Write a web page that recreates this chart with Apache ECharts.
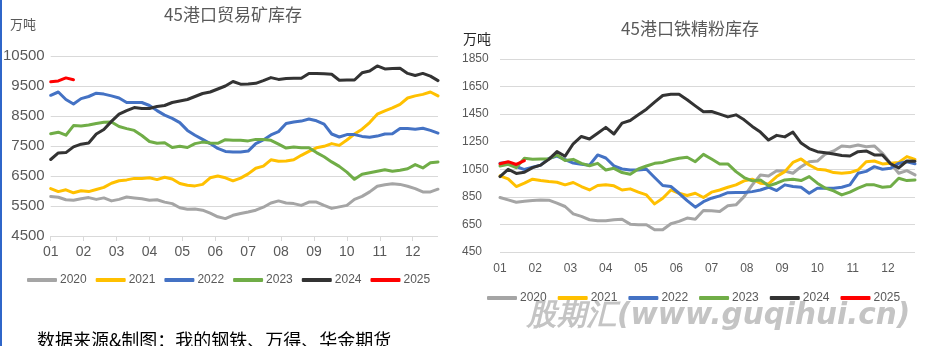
<!DOCTYPE html>
<html>
<head>
<meta charset="utf-8">
<title>45港口库存</title>
<script src="https://cdn.jsdelivr.net/npm/echarts@6/dist/echarts.min.js"></script>
<style>
  html, body { margin: 0; padding: 0; background: #fff; }
  #chart { width: 927px; height: 346px; }
</style>
</head>
<body>
<div id="chart"></div>
<script>
// Weekly categories (52 weeks per year) and month tick labels
const WEEKS = ['W01','W02','W03','W04','W05','W06','W07','W08','W09','W10','W11','W12','W13',
  'W14','W15','W16','W17','W18','W19','W20','W21','W22','W23','W24','W25','W26',
  'W27','W28','W29','W30','W31','W32','W33','W34','W35','W36','W37','W38','W39',
  'W40','W41','W42','W43','W44','W45','W46','W47','W48','W49','W50','W51','W52'];
const MONTH_LABELS = ['01','02','03','04','05','06','07','08','09','10','11','12'];
const YEARS = ['2020','2021','2022','2023','2024','2025'];
const YEAR_COLORS = ['#A5A5A5','#FFC000','#4472C4','#70AD47','#333333','#FF0000'];

// 45港口贸易矿库存 (万吨)
const TRADE_Y_TICKS = [4500, 5500, 6500, 7500, 8500, 9500, 10500];
const TRADE_2020 = [5820,5790,5710,5690,5740,5780,5720,5770,5670,5720,5800,5770,5740,5690,5710,5630,5580,5440,5390,5400,5360,5260,5140,5080,5190,5250,5300,5360,5460,5600,5670,5600,5580,5520,5630,5630,5520,5420,5470,5520,5720,5820,5970,6160,6210,6240,6220,6160,6080,5970,5970,6060];
const TRADE_2021 = [6080,5980,6040,5940,6010,5980,6050,6120,6260,6340,6370,6420,6420,6440,6380,6460,6400,6250,6190,6170,6220,6440,6500,6440,6340,6430,6570,6760,6830,7040,6990,7000,7040,7190,7320,7440,7490,7580,7520,7700,7900,8060,8280,8560,8670,8770,8890,9100,9170,9220,9300,9170];
const TRADE_2022 = [9190,9300,9050,8900,9080,9150,9260,9230,9170,9100,8950,8950,8950,8850,8680,8530,8420,8280,8020,7860,7720,7580,7420,7320,7300,7300,7330,7580,7700,7870,7980,8250,8300,8330,8400,8340,8230,7900,7800,7880,7880,7820,7790,7830,7900,7910,8080,8080,8060,8090,8020,7930];
const TRADE_2023 = [7910,7960,7860,8180,8170,8200,8250,8290,8300,8150,8080,8020,7850,7650,7590,7610,7450,7490,7450,7580,7630,7600,7590,7710,7690,7690,7670,7720,7720,7690,7560,7430,7470,7440,7440,7280,7140,6970,6820,6630,6390,6560,6610,6660,6710,6660,6690,6740,6880,6770,6940,6970];
const TRADE_2024 = [7050,7270,7280,7470,7560,7600,7900,8050,8320,8560,8680,8780,8750,8750,8820,8850,8950,9000,9050,9150,9250,9300,9400,9500,9650,9560,9570,9590,9680,9780,9720,9750,9760,9760,9920,9920,9910,9890,9690,9700,9700,9940,10000,10170,10070,10080,10090,9920,9850,9920,9830,9680];
const TRADE_2025 = [9640,9670,9770,9710];

// 45港口铁精粉库存 (万吨)
const FINES_Y_TICKS = [450, 650, 850, 1050, 1250, 1450, 1650, 1850];
const FINES_2020 = [845,828,811,818,823,828,826,804,780,727,708,684,676,676,684,688,652,648,648,611,611,655,672,696,688,751,749,744,785,792,852,937,1009,1002,1040,1038,1021,1069,1105,1110,1161,1183,1219,1214,1226,1214,1219,1166,1093,1021,1040,1009];
const FINES_2021 = [1002,980,925,949,978,968,961,956,937,954,925,900,932,937,930,900,908,884,864,799,840,900,876,860,876,845,884,900,920,937,966,978,949,944,997,1033,1100,1125,1081,1050,1045,1026,1021,1026,1045,1105,1110,1089,1093,1100,1142,1122];
const FINES_2022 = [1093,1100,1070,1048,1065,1080,1128,1146,1120,1095,1086,1080,1154,1132,1075,1052,1045,1045,1050,990,932,925,876,823,775,815,840,857,880,882,882,888,900,920,896,937,925,920,876,913,913,913,920,937,1021,1035,1069,1050,1057,1093,1105,1090];
const FINES_2023 = [1074,1086,1062,1130,1122,1125,1125,1154,1113,1122,1093,1076,1093,1045,1057,1026,1014,1052,1074,1093,1100,1117,1130,1137,1105,1158,1125,1089,1089,1033,990,966,973,930,949,973,978,968,997,949,913,893,864,884,913,937,937,920,925,985,968,973];
const FINES_2024 = [997,1050,1020,1028,1062,1080,1122,1178,1145,1235,1288,1270,1312,1354,1306,1385,1404,1445,1486,1537,1585,1595,1595,1554,1510,1467,1469,1450,1430,1445,1409,1361,1320,1262,1296,1285,1320,1240,1200,1178,1170,1161,1150,1146,1178,1183,1154,1154,1090,1060,1110,1108];
const FINES_2025 = [1090,1105,1085,1112];

const TRADE_SERIES = [TRADE_2020, TRADE_2021, TRADE_2022, TRADE_2023, TRADE_2024, TRADE_2025];
const FINES_SERIES = [FINES_2020, FINES_2021, FINES_2022, FINES_2023, FINES_2024, FINES_2025];

const LABEL_COLOR = '#595959';
const GRID_COLOR = '#D9D9D9';
const NUM_FONT = '"Liberation Sans", Arial, sans-serif';
const CJK_FONT = '"Noto Sans CJK SC", sans-serif';

// Month positions on the week scale: month k sits at k * (52/12) weeks.
const monthSpan = (WEEKS.length - 1) / WEEKS.length * MONTH_LABELS.length;

function weekAxis(gridIndex) {
  return {
    type: 'category', gridIndex, data: WEEKS, boundaryGap: false,
    axisLine: { show: false }, axisTick: { show: false }, axisLabel: { show: false },
    splitLine: { show: false }
  };
}
function monthAxis(gridIndex, fontSize, margin, showTicks) {
  return {
    type: 'value', gridIndex, position: 'bottom', min: 0, max: monthSpan, interval: 1,
    axisLine: { show: false },
    axisTick: { show: showTicks, length: 5, lineStyle: { color: GRID_COLOR, width: 1 } },
    splitLine: { show: false },
    axisLabel: {
      color: LABEL_COLOR, fontSize, fontFamily: NUM_FONT, margin,
      showMaxLabel: false,
      formatter: v => (Number.isInteger(v) && MONTH_LABELS[v]) ? MONTH_LABELS[v] : ''
    }
  };
}

const series = [];
YEARS.forEach((name, k) => {
  series.push({
    name, type: 'line', xAxisIndex: 0, yAxisIndex: 0, data: TRADE_SERIES[k],
    symbol: 'none', smooth: false, animation: false,
    lineStyle: { width: 3, color: YEAR_COLORS[k], cap: 'round', join: 'round' },
    itemStyle: { color: YEAR_COLORS[k] }
  });
});
YEARS.forEach((name, k) => {
  series.push({
    name, type: 'line', xAxisIndex: 2, yAxisIndex: 1, data: FINES_SERIES[k],
    symbol: 'none', smooth: false, animation: false,
    lineStyle: { width: 3, color: YEAR_COLORS[k], cap: 'round', join: 'round' },
    itemStyle: { color: YEAR_COLORS[k] }
  });
});

const legendBase = {
  data: YEARS, icon: 'roundRect', itemWidth: 30, itemHeight: 4, padding: 0,
  selectedMode: false,
  textStyle: { color: LABEL_COLOR, fontSize: 12, fontFamily: NUM_FONT, padding: [0, 0, 0, -2] }
};

const chart = echarts.init(document.getElementById('chart'), null, { renderer: 'canvas' });
chart.setOption({
  animation: false,
  backgroundColor: '#ffffff',
  grid: [
    { left: 46, top: 56, width: 392, height: 180 },
    { left: 500, top: 59, width: 415, height: 193 }
  ],
  xAxis: [
    weekAxis(0),
    monthAxis(0, 14, 9, true),
    weekAxis(1),
    monthAxis(1, 12, 11, false)
  ],
  yAxis: [
    {
      type: 'value', gridIndex: 0, min: 4500, max: 10500, interval: 500,
      axisLine: { show: false }, axisTick: { show: false },
      splitLine: { lineStyle: { color: [GRID_COLOR, 'rgba(0,0,0,0)'], width: 1 } },
      axisLabel: {
        color: LABEL_COLOR, fontSize: 15, fontFamily: NUM_FONT, margin: 6,
        formatter: v => TRADE_Y_TICKS.includes(v) ? String(v) : ''
      }
    },
    {
      type: 'value', gridIndex: 1, min: 450, max: 1850, interval: 50,
      axisLine: { show: false }, axisTick: { show: false },
      splitLine: { lineStyle: { color: [GRID_COLOR, 'rgba(0,0,0,0)', 'rgba(0,0,0,0)', 'rgba(0,0,0,0)'], width: 1 } },
      axisLabel: {
        color: LABEL_COLOR, fontSize: 12, fontFamily: NUM_FONT, margin: 38, align: 'left',
        formatter: v => FINES_Y_TICKS.includes(v) ? String(v) : ''
      }
    }
  ],
  legend: [
    Object.assign({}, legendBase, { left: 27, top: 274, itemGap: 9 }),
    Object.assign({}, legendBase, { left: 487, top: 292, itemGap: 11 })
  ],
  series,
  graphic: [
    { type: 'rect', left: 0, top: 0, shape: { width: 2, height: 346 }, style: { fill: '#2F66C9' }, silent: true },
    { type: 'text', x: 233, y: 15, style: { text: '45港口贸易矿库存', fill: '#595959', font: '17px ' + CJK_FONT, textAlign: 'center', textVerticalAlign: 'middle' } },
    { type: 'text', x: 690, y: 29, style: { text: '45港口铁精粉库存', fill: '#595959', font: '17px ' + CJK_FONT, textAlign: 'center', textVerticalAlign: 'middle' } },
    { type: 'text', x: 10, y: 24, style: { text: '万吨', fill: '#595959', font: '13px ' + CJK_FONT, textVerticalAlign: 'middle' } },
    { type: 'text', x: 463, y: 39, style: { text: '万吨', fill: '#262626', font: '14px ' + CJK_FONT, textVerticalAlign: 'middle' } },
    { type: 'text', x: 527, y: 316, z: -1, style: { text: '股期汇(www.guqihui.cn)', fill: '#C4C4C4', font: 'italic bold 29.5px "DejaVu Sans", sans-serif', textVerticalAlign: 'middle' } },
    { type: 'text', x: 37, y: 340, style: { text: '数据来源&制图：我的钢铁、万得、华金期货', fill: '#000000', font: '18px ' + CJK_FONT, textVerticalAlign: 'middle' } }
  ]
});
</script>
</body>
</html>
